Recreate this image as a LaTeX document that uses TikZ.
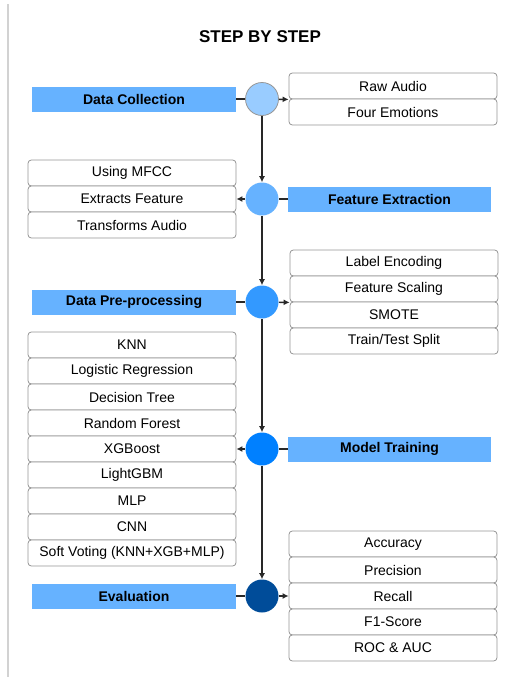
\documentclass[tikz,border=0pt]{standalone}
\usepackage{fontspec}
\setmainfont{Liberation Sans}
\usetikzlibrary{arrows.meta}
\definecolor{barc}{RGB}{102,178,255}
\definecolor{cfa} {RGB}{153,204,255}
\definecolor{cfb} {RGB}{102,178,255}
\definecolor{cfc} {RGB}{ 51,153,255}
\definecolor{cfd} {RGB}{  0,128,255}
\definecolor{cfe} {RGB}{  0, 76,153}
\definecolor{iline}{RGB}{150,150,150}
\definecolor{lcol}{RGB}{ 40, 40, 40}
\tikzset{
  BR/.style={fill=barc, minimum width=153pt, minimum height=18.75pt, inner sep=0pt,
             font=\fontsize{10.5}{12}\selectfont\bfseries},
  ST/.style={circle, minimum size=24.75pt, inner sep=0pt},
  IT/.style={draw=iline, fill=white, rounded corners=2.5pt, line width=0.6pt,
             minimum width=156pt, minimum height=19.5pt, inner sep=0pt,
             font=\fontsize{10.5}{12}\selectfont},
  LN/.style={draw=lcol, line width=1.1pt},
  AR/.style={LN, -{Latex[length=4.5pt,width=4.5pt]}},
}

\begin{document}
\begin{tikzpicture}[x=0.75pt, y=-0.75pt]
\useasboundingbox (0,0) rectangle (505,679);

% page edge
\draw[gray!35, line width=0.8pt] (8,4) -- (8,677);

\node[font=\fontsize{12.75}{15}\selectfont\bfseries] (title) at (260,37) {STEP BY STEP};

%% ================================================================
%%  STEP NODES
%% ================================================================
\node[ST, fill=cfa, draw=iline, line width=0.6pt] (c1) at (262,99)  {};
\node[ST, fill=cfb] (c2) at (262,199) {};
\node[ST, fill=cfc] (c3) at (262,302) {};
\node[ST, fill=cfd] (c4) at (262,449) {};
\node[ST, fill=cfe] (c5) at (262,596) {};

% bars
\node[BR] (dcol) at (134,99)    {Data Collection};
\node[BR, minimum width=152pt] (fext) at (389.5,199) {Feature Extraction};
\node[BR] (prep) at (134,302)   {Data Pre-processing};
\node[BR, minimum width=152pt] (mtrn) at (389.5,449) {Model Training};
\node[BR] (eval) at (134,596)   {Evaluation};

%% ================================================================
%%  ITEM STACKS
%% ================================================================
\foreach \txt [count=\i] in {Raw Audio, Four Emotions}
  \node[IT] (dc\i) at (393,{60+26*\i}) {\txt};

\foreach \txt [count=\i] in {Using MFCC, Extracts Feature, Transforms Audio}
  \node[IT] (fe\i) at (132,{147+26*\i}) {\txt};

\foreach \txt [count=\i] in {Label Encoding, Feature Scaling, SMOTE, Train/Test Split}
  \node[IT] (pp\i) at (394,{237+26*\i}) {\txt};

\foreach \txt [count=\i] in {KNN, Logistic Regression, Decision Tree, Random Forest,
    XGBoost, LightGBM, MLP, CNN, Soft Voting (KNN+XGB+MLP)}
  \node[IT] (mt\i) at (132,{319+26*\i}) {\txt};

\foreach \txt [count=\i] in {Accuracy, Precision, Recall, F1-Score, ROC \& AUC}
  \node[IT] (ev\i) at (393,{518+26*\i}) {\txt};

%% ================================================================
%%  CONNECTORS
%% ================================================================
% main flow
\draw[AR] (c1) -- (c2);
\draw[AR] (c2) -- (c3);
\draw[AR] (c3) -- (c4);
\draw[AR] (c4) -- (c5);

% bar to step
\draw[LN] (dcol) -- (c1);
\draw[LN] (fext) -- (c2);
\draw[LN] (prep) -- (c3);
\draw[LN] (mtrn) -- (c4);
\draw[LN] (eval) -- (c5);

% step to items
\draw[AR] (c1) -- (dc1.south west);
\draw[AR] (c2) -- (fe2.east);
\draw[AR] (c3) -- (pp2.south west);
\draw[AR] (c4) -- (mt5.east);
\draw[AR] (c5) -- (ev3.west);

\end{tikzpicture}
\end{document}
